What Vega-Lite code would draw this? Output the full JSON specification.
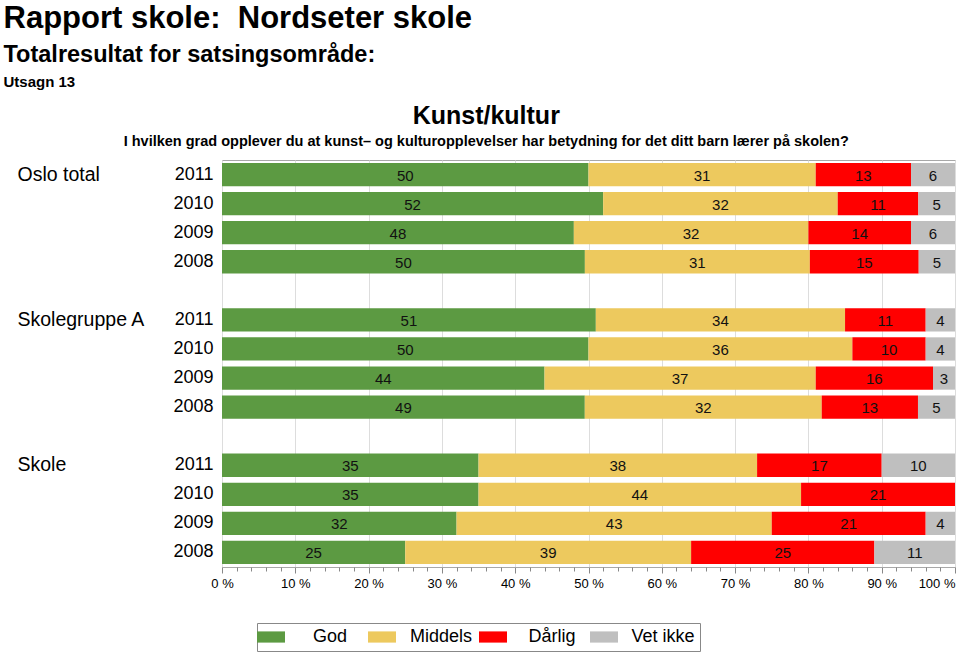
{
  "$schema": "https://vega.github.io/schema/vega-lite/v6.json",
  "background": "white",
  "padding": {"left": 3, "top": 2, "right": 2, "bottom": 2},
  "config": {
    "font": "Liberation Sans",
    "view": {"stroke": "#a8a8a8", "strokeWidth": 1},
    "concat": {"spacing": 0},
    "title": {"color": "black", "subtitleColor": "black"}
  },
  "title": {
    "text": "Rapport skole:\u00a0 Nordseter skole",
    "subtitle": "Totalresultat for satsingsområde:",
    "anchor": "start",
    "frame": "bounds",
    "fontSize": 31,
    "fontWeight": "bold",
    "subtitleFontSize": 23.5,
    "subtitleFontWeight": "bold",
    "subtitlePadding": 8,
    "offset": 8
  },
  "datasets": {
    "d": [
      {"group": "Oslo total", "year": "2011", "category": "God", "value": 50, "order": 1},
      {"group": "Oslo total", "year": "2011", "category": "Middels", "value": 31, "order": 2},
      {"group": "Oslo total", "year": "2011", "category": "Dårlig", "value": 13, "order": 3},
      {"group": "Oslo total", "year": "2011", "category": "Vet ikke", "value": 6, "order": 4},
      {"group": "Oslo total", "year": "2010", "category": "God", "value": 52, "order": 1},
      {"group": "Oslo total", "year": "2010", "category": "Middels", "value": 32, "order": 2},
      {"group": "Oslo total", "year": "2010", "category": "Dårlig", "value": 11, "order": 3},
      {"group": "Oslo total", "year": "2010", "category": "Vet ikke", "value": 5, "order": 4},
      {"group": "Oslo total", "year": "2009", "category": "God", "value": 48, "order": 1},
      {"group": "Oslo total", "year": "2009", "category": "Middels", "value": 32, "order": 2},
      {"group": "Oslo total", "year": "2009", "category": "Dårlig", "value": 14, "order": 3},
      {"group": "Oslo total", "year": "2009", "category": "Vet ikke", "value": 6, "order": 4},
      {"group": "Oslo total", "year": "2008", "category": "God", "value": 50, "order": 1},
      {"group": "Oslo total", "year": "2008", "category": "Middels", "value": 31, "order": 2},
      {"group": "Oslo total", "year": "2008", "category": "Dårlig", "value": 15, "order": 3},
      {"group": "Oslo total", "year": "2008", "category": "Vet ikke", "value": 5, "order": 4},
      {"group": "Skolegruppe A", "year": "2011", "category": "God", "value": 51, "order": 1},
      {"group": "Skolegruppe A", "year": "2011", "category": "Middels", "value": 34, "order": 2},
      {"group": "Skolegruppe A", "year": "2011", "category": "Dårlig", "value": 11, "order": 3},
      {"group": "Skolegruppe A", "year": "2011", "category": "Vet ikke", "value": 4, "order": 4},
      {"group": "Skolegruppe A", "year": "2010", "category": "God", "value": 50, "order": 1},
      {"group": "Skolegruppe A", "year": "2010", "category": "Middels", "value": 36, "order": 2},
      {"group": "Skolegruppe A", "year": "2010", "category": "Dårlig", "value": 10, "order": 3},
      {"group": "Skolegruppe A", "year": "2010", "category": "Vet ikke", "value": 4, "order": 4},
      {"group": "Skolegruppe A", "year": "2009", "category": "God", "value": 44, "order": 1},
      {"group": "Skolegruppe A", "year": "2009", "category": "Middels", "value": 37, "order": 2},
      {"group": "Skolegruppe A", "year": "2009", "category": "Dårlig", "value": 16, "order": 3},
      {"group": "Skolegruppe A", "year": "2009", "category": "Vet ikke", "value": 3, "order": 4},
      {"group": "Skolegruppe A", "year": "2008", "category": "God", "value": 49, "order": 1},
      {"group": "Skolegruppe A", "year": "2008", "category": "Middels", "value": 32, "order": 2},
      {"group": "Skolegruppe A", "year": "2008", "category": "Dårlig", "value": 13, "order": 3},
      {"group": "Skolegruppe A", "year": "2008", "category": "Vet ikke", "value": 5, "order": 4},
      {"group": "Skole", "year": "2011", "category": "God", "value": 35, "order": 1},
      {"group": "Skole", "year": "2011", "category": "Middels", "value": 38, "order": 2},
      {"group": "Skole", "year": "2011", "category": "Dårlig", "value": 17, "order": 3},
      {"group": "Skole", "year": "2011", "category": "Vet ikke", "value": 10, "order": 4},
      {"group": "Skole", "year": "2010", "category": "God", "value": 35, "order": 1},
      {"group": "Skole", "year": "2010", "category": "Middels", "value": 44, "order": 2},
      {"group": "Skole", "year": "2010", "category": "Dårlig", "value": 21, "order": 3},
      {"group": "Skole", "year": "2009", "category": "God", "value": 32, "order": 1},
      {"group": "Skole", "year": "2009", "category": "Middels", "value": 43, "order": 2},
      {"group": "Skole", "year": "2009", "category": "Dårlig", "value": 21, "order": 3},
      {"group": "Skole", "year": "2009", "category": "Vet ikke", "value": 4, "order": 4},
      {"group": "Skole", "year": "2008", "category": "God", "value": 25, "order": 1},
      {"group": "Skole", "year": "2008", "category": "Middels", "value": 39, "order": 2},
      {"group": "Skole", "year": "2008", "category": "Dårlig", "value": 25, "order": 3},
      {"group": "Skole", "year": "2008", "category": "Vet ikke", "value": 11, "order": 4}
    ]
  },
  "vconcat": [
    {
      "title": {"text": "Utsagn 13", "anchor": "start", "frame": "bounds", "dx": -13, "fontSize": 15, "fontWeight": "bold", "offset": 13},
      "vconcat": [
        {
          "width": 733,
          "height": 407,
          "title": {
            "text": "Kunst/kultur",
            "subtitle": "I hvilken grad opplever du at kunst– og kulturopplevelser har betydning for det ditt barn lærer på skolen?",
            "anchor": "middle",
            "frame": "bounds",
            "fontSize": 25,
            "fontWeight": "bold",
            "subtitleFontSize": 14.5,
            "subtitleFontWeight": "bold",
            "subtitlePadding": 6,
            "offset": 12
          },
          "data": {"name": "d"},
          "transform": [{"calculate": "datum.group + ' ' + datum.year", "as": "row"}],
          "layer": [
            {
              "mark": {"type": "bar"},
              "encoding": {
                "y": {
                  "field": "row",
                  "type": "nominal",
                  "scale": {
                    "domain": ["Oslo total 2011", "Oslo total 2010", "Oslo total 2009", "Oslo total 2008", "g1",
                               "Skolegruppe A 2011", "Skolegruppe A 2010", "Skolegruppe A 2009", "Skolegruppe A 2008", "g2",
                               "Skole 2011", "Skole 2010", "Skole 2009", "Skole 2008"],
                    "paddingInner": 0.2,
                    "paddingOuter": 0.1
                  },
                  "axis": {
                    "title": null,
                    "orient": "left",
                    "ticks": false,
                    "domain": false,
                    "grid": false,
                    "labelFontSize": 18,
                    "labelPadding": 9,
                    "labelColor": "black",
                    "labelExpr": "length(datum.value) < 5 ? '' : substring(datum.value, length(datum.value) - 4)"
                  }
                },
                "x": {
                  "field": "value",
                  "type": "quantitative",
                  "stack": "normalize",
                  "scale": {"domain": [0, 1], "nice": false},
                  "axis": {
                    "title": null,
                    "orient": "bottom",
                    "values": [0, 0.1, 0.2, 0.3, 0.4, 0.5, 0.6, 0.7, 0.8, 0.9, 1],
                    "labelExpr": "round(datum.value * 100) + ' %'",
                    "grid": true,
                    "gridColor": "#dddddd",
                    "domain": false,
                    "tickSize": 6,
                    "tickColor": "#888888",
                    "labelFontSize": 13,
                    "labelPadding": 4,
                    "labelColor": "black",
                    "labelFlush": false,
                    "labelAlign": {"condition": {"test": "datum.value >= 1", "value": "right"}, "value": "center"}
                  }
                },
                "color": {
                  "field": "category",
                  "type": "nominal",
                  "scale": {
                    "domain": ["God", "Middels", "Dårlig", "Vet ikke"],
                    "range": ["#5c9a42", "#edc95e", "#ff0000", "#bfbfbf"]
                  },
                  "legend": {
                    "title": null,
                    "orient": "none",
                    "legendX": 35,
                    "legendY": 463,
                    "direction": "horizontal",
                    "symbolType": "M-2,-0.8H2V0.8H-2Z",
                    "symbolSize": 196,
                    "symbolStrokeWidth": 0,
                    "symbolOpacity": 1,
                    "labelFontSize": 18,
                    "labelColor": "black",
                    "labelAlign": "center",
                    "labelOffset": 50,
                    "gridAlign": "all",
                    "columnPadding": 6,
                    "strokeColor": "#888888",
                    "padding": 5
                  }
                },
                "order": {"field": "order", "type": "quantitative"}
              }
            },
            {
              "mark": {"type": "text", "fontSize": 15, "color": "#111111", "baseline": "middle", "dy": 1},
              "encoding": {
                "y": {
                  "field": "row",
                  "type": "nominal",
                  "axis": {
                    "title": null,
                    "orient": "left",
                    "ticks": false,
                    "domain": false,
                    "grid": false,
                    "labelFontSize": 19.5,
                    "labelAlign": "left",
                    "labelPadding": 205,
                    "labelColor": "black",
                    "labelExpr": "indexof(datum.value, '2011') > 0 ? substring(datum.value, 0, length(datum.value) - 5) : ''"
                  }
                },
                "x": {
                  "field": "value",
                  "type": "quantitative",
                  "stack": "normalize",
                  "bandPosition": 0.5,
                  "axis": {
                    "title": null,
                    "orient": "bottom",
                    "values": [0.02, 0.04, 0.06, 0.08, 0.12, 0.14, 0.16, 0.18, 0.22, 0.24, 0.26, 0.28, 0.32, 0.34, 0.36, 0.38, 0.42, 0.44, 0.46, 0.48, 0.52, 0.54, 0.56, 0.58, 0.62, 0.64, 0.66, 0.68, 0.72, 0.74, 0.76, 0.78, 0.82, 0.84, 0.86, 0.88, 0.92, 0.94, 0.96, 0.98],
                    "labels": false,
                    "grid": false,
                    "domain": false,
                    "tickSize": 4,
                    "tickColor": "#888888"
                  }
                },
                "detail": {"field": "category"},
                "text": {"field": "value", "type": "quantitative"},
                "order": {"field": "order", "type": "quantitative"}
              }
            }
          ],
          "resolve": {"axis": {"x": "independent", "y": "independent"}}
        }
      ]
    }
  ]
}
